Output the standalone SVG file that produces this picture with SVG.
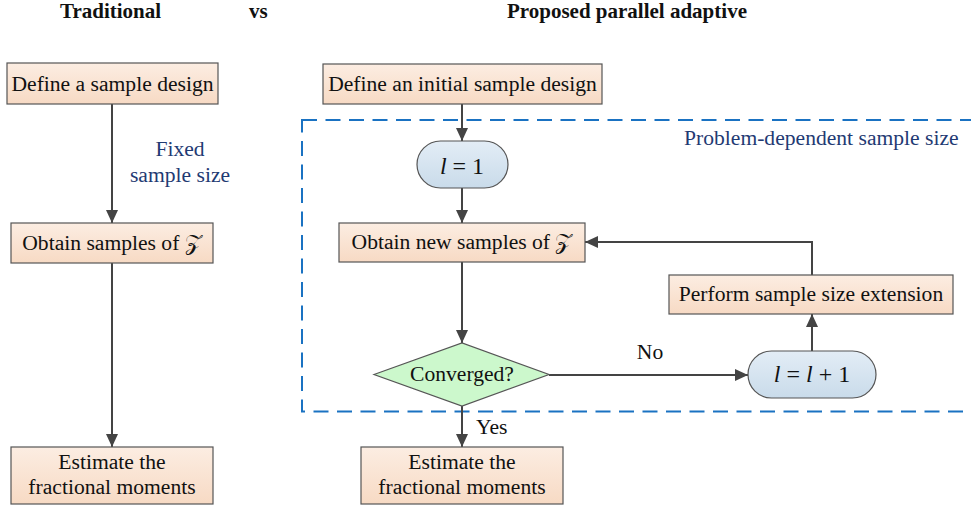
<svg xmlns="http://www.w3.org/2000/svg" width="971" height="509" viewBox="0 0 971 509" font-family="'Liberation Serif', 'Times New Roman', 'DejaVu Serif', serif">
<style>
text{font-family:'Liberation Serif','Times New Roman','DejaVu Serif',serif;font-size:21.6px;fill:#111;}
.title{font-weight:bold;font-size:21px;}
.blue{fill:#1f3a73;}
.box{fill:url(#peach);stroke:#555;stroke-width:1.2;}
.pill{fill:url(#lblue);stroke:#555;stroke-width:1.2;}
.dia{fill:#ccf8cc;stroke:#555;stroke-width:1.2;}
.conn{fill:none;stroke:#444;stroke-width:2;}
.math{font-size:24px;}
</style>
<defs>
<linearGradient id="peach" x1="0" y1="0" x2="0" y2="1">
<stop offset="0" stop-color="#fcede2"/>
<stop offset="1" stop-color="#f7dac4"/>
</linearGradient>
<linearGradient id="lblue" x1="0" y1="0" x2="0" y2="1">
<stop offset="0" stop-color="#e3edf6"/>
<stop offset="1" stop-color="#c9dbea"/>
</linearGradient>
<marker id="arr" markerUnits="userSpaceOnUse" markerWidth="14" markerHeight="14" refX="13" refY="7" orient="auto">
<path d="M0,1 L13,7 L0,13 z" fill="#444"/>
</marker>
</defs>

<g id="titles">
<text class="title" x="60" y="18">Traditional</text>
<text class="title" x="249" y="18">vs</text>
<text class="title" x="507" y="18">Proposed parallel adaptive</text>
</g>

<g id="region">
<rect x="302" y="120" width="690" height="291.5" fill="none" stroke="#1a72c2" stroke-width="2" stroke-dasharray="15 8.5"/>
<text class="blue" x="684" y="145">Problem-dependent sample size</text>
</g>

<g id="connectors">
<line class="conn" x1="112" y1="104" x2="112" y2="223" marker-end="url(#arr)"/>
<line class="conn" x1="112" y1="263" x2="112" y2="447" marker-end="url(#arr)"/>
<line class="conn" x1="462" y1="104" x2="462" y2="141" marker-end="url(#arr)"/>
<line class="conn" x1="462" y1="188" x2="462" y2="223" marker-end="url(#arr)"/>
<line class="conn" x1="462" y1="262" x2="462" y2="343" marker-end="url(#arr)"/>
<line class="conn" x1="549" y1="375" x2="748" y2="375" marker-end="url(#arr)"/>
<line class="conn" x1="812" y1="351" x2="812" y2="314" marker-end="url(#arr)"/>
<polyline class="conn" points="812,275 812,242 585,242" marker-end="url(#arr)"/>
<line class="conn" x1="462" y1="406" x2="462" y2="447" marker-end="url(#arr)"/>
<text class="blue" x="180" y="156" text-anchor="middle">Fixed</text>
<text class="blue" x="180" y="182" text-anchor="middle">sample size</text>
<text x="650" y="359" text-anchor="middle">No</text>
<text x="476" y="434">Yes</text>
</g>

<g id="n_define_left">
<rect class="box" x="7" y="63" width="211" height="41"/>
<text x="112.5" y="91" text-anchor="middle">Define a sample design</text>
</g>
<g id="n_obtain_left">
<rect class="box" x="11" y="223" width="202" height="40"/>
<text x="112" y="250" text-anchor="middle">Obtain samples of 𝒵</text>
</g>
<g id="n_estimate_left">
<rect class="box" x="11" y="447" width="202" height="57"/>
<text x="112" y="469" text-anchor="middle">Estimate the</text>
<text x="112" y="494" text-anchor="middle">fractional moments</text>
</g>

<g id="n_define_right">
<rect class="box" x="323" y="64" width="279" height="40"/>
<text x="462.5" y="91" text-anchor="middle">Define an initial sample design</text>
</g>
<g id="n_l1">
<rect class="pill" x="417" y="141" width="91" height="47" rx="23.5"/>
<text class="math" x="462" y="174" text-anchor="middle"><tspan font-style="italic">l</tspan> = 1</text>
</g>
<g id="n_obtain_right">
<rect class="box" x="339" y="223" width="246" height="39"/>
<text x="462" y="249" text-anchor="middle">Obtain new samples of 𝒵</text>
</g>
<g id="n_perform">
<rect class="box" x="669" y="275" width="284" height="39"/>
<text x="811" y="301" text-anchor="middle">Perform sample size extension</text>
</g>
<g id="n_converged">
<polygon class="dia" points="374,374.5 462,343 549,374.5 462,406"/>
<text x="462" y="381" text-anchor="middle">Converged?</text>
</g>
<g id="n_lplus">
<rect class="pill" x="748" y="351" width="128" height="47" rx="23.5"/>
<text class="math" x="812" y="382" text-anchor="middle"><tspan font-style="italic">l</tspan> = <tspan font-style="italic">l</tspan> + 1</text>
</g>
<g id="n_estimate_right">
<rect class="box" x="361" y="447" width="202" height="57"/>
<text x="462" y="469" text-anchor="middle">Estimate the</text>
<text x="462" y="494" text-anchor="middle">fractional moments</text>
</g>
</svg>
